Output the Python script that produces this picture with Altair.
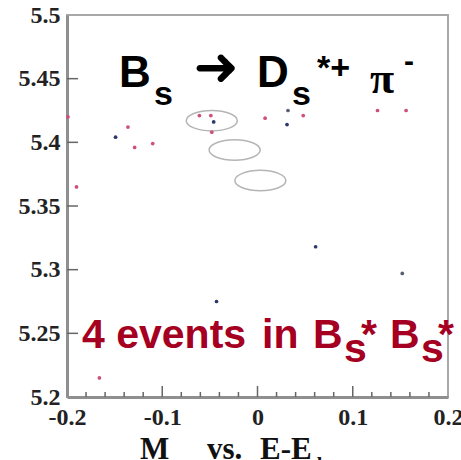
import altair as alt
import pandas as pd

# ---- data ----
x_vals = [-0.199, -0.190, -0.149, -0.136, -0.129, -0.110, -0.061, -0.049, -0.046, -0.048,
          0.008, 0.032, 0.031, 0.048, 0.126, 0.156, -0.043, -0.166, 0.061, 0.152]
y_vals = [5.420, 5.365, 5.404, 5.412, 5.396, 5.399, 5.421, 5.421, 5.416, 5.408,
          5.419, 5.425, 5.414, 5.421, 5.425, 5.425, 5.275, 5.215, 5.318, 5.297]
kinds = ["pink", "pink", "blue", "pink", "pink", "pink", "pink", "pink", "blue", "pink",
         "pink", "gray", "blue", "pink", "pink", "pink", "blue", "pink", "blue", "gray"]

ellipse_x = [-0.048, -0.024, 0.003]
ellipse_y = [5.417, 5.394, 5.370]

y_tick_labels = [5.2, 5.25, 5.3, 5.35, 5.4, 5.45, 5.5]
x_tick_labels = [-0.2, -0.1, 0, 0.1, 0.2]
y_inner_ticks = [5.25, 5.3, 5.35, 5.4, 5.45]
x_major_ticks = [-0.1, 0.0, 0.1]
x_minor_ticks = [-0.18, -0.16, -0.14, -0.12, -0.08, -0.06, -0.04, -0.02,
                 0.02, 0.04, 0.06, 0.08, 0.12, 0.14, 0.16, 0.18]

pts_df = pd.DataFrame({"x": x_vals, "y": y_vals, "kind": kinds})
ell_df = pd.DataFrame({"x": ellipse_x, "y": ellipse_y})
yt_df = pd.DataFrame({"y": y_inner_ticks})
xmaj_df = pd.DataFrame({"x": x_major_ticks})
xmin_df = pd.DataFrame({"x": x_minor_ticks})

W, H = 381, 382
xs = alt.Scale(domain=[-0.2, 0.2], nice=False, zero=False)
ys = alt.Scale(domain=[5.2, 5.5], nice=False, zero=False)

x_axis = alt.Axis(values=x_tick_labels, labelExpr="toString(datum.value)", title=None,
                  labelPadding=8, labelFlush=False, labelOverlap=False)
y_axis = alt.Axis(values=y_tick_labels, labelExpr="toString(datum.value)", title=None,
                  labelPadding=7, labelOverlap=False)

X = alt.X("x:Q", scale=xs, axis=x_axis)
Y = alt.Y("y:Q", scale=ys, axis=y_axis)

pts = alt.Chart(pts_df).mark_point(filled=True, size=14, opacity=1).encode(
    x=X, y=Y,
    color=alt.Color("kind:N", scale=alt.Scale(domain=["pink", "blue", "gray"],
                                              range=["#cf4f7c", "#2b3a6b", "#5a5f70"]),
                    legend=None),
)

ell = alt.Chart(ell_df).mark_point(
    shape="M-1,0A1,0.4,0,1,1,1,0A1,0.4,0,1,1,-1,0Z", size=2600, filled=False,
    color="#b5b5b5", strokeWidth=1.5, opacity=1,
).encode(x=X, y=Y)

yt = alt.Chart(yt_df).mark_rule(color="#666666", strokeWidth=1.5).encode(
    y=Y, x=alt.value(0), x2=alt.value(11))
xt_major = alt.Chart(xmaj_df).mark_rule(color="#666666", strokeWidth=1.5).encode(
    x=X, y=alt.value(H), y2=alt.value(H - 11))
xt_minor = alt.Chart(xmin_df).mark_rule(color="#666666", strokeWidth=1.5).encode(
    x=X, y=alt.value(H), y2=alt.value(H - 5))


def label(txt, x, y, size, color, font="Liberation Sans", weight="bold",
          align="left", baseline="alphabetic"):
    return alt.Chart(alt.Data(values=[{}])).mark_text(
        text=txt, font=font, fontSize=size, fontWeight=weight, color=color,
        align=align, baseline=baseline,
    ).encode(x=alt.value(x), y=alt.value(y))


BLK = "#000000"
RED = "#a50021"
labels = [
    label("B", 52, 72, 44, BLK),
    label("s", 87, 90, 34, BLK),
    label("➜", 149, 54, 54, BLK, font="DejaVu Sans", align="center", baseline="middle"),
    label("D", 190, 72, 44, BLK),
    label("s", 225, 90, 34, BLK),
    label("*+", 250, 64, 34, BLK),
    label("π", 303, 78, 44, BLK, font="Liberation Serif"),
    label("-", 337, 56, 30, BLK),
    label("4 events", 15, 333, 41, RED),
    label("in", 195, 333, 41, RED),
    label("B", 246, 333, 41, RED),
    label("s", 277, 347, 41, RED),
    label("*", 294, 333, 41, RED),
    label("B", 323, 333, 41, RED),
    label("s", 354, 347, 41, RED),
    label("*", 371, 333, 41, RED),
    label("M", 73, 444, 31, "#111111", font="Liberation Serif"),
    label("bc", 105, 462, 20, "#111111", font="Liberation Serif"),
    label("vs.", 140, 444, 31, "#111111", font="Liberation Serif"),
    label("E-E", 193, 444, 31, "#111111", font="Liberation Serif"),
    label("beam", 250, 457, 20, "#111111", font="Liberation Serif"),
]

chart = alt.layer(ell, yt, xt_major, xt_minor, pts, *labels).properties(
    width=W, height=H,
    padding={"left": 67, "top": 15, "right": 13, "bottom": 63},
    autosize=alt.AutoSizeParams(type="none"),
    background="white",
).configure_view(
    stroke="#a8a8a8", strokeWidth=2
).configure_axis(
    grid=False, ticks=False, tickSize=0, domainColor="#8f8f8f", domainWidth=3,
    labelFont="Liberation Serif", labelFontWeight="bold", labelFontSize=24,
    labelColor="#222222",
)

chart.save("out.html", embed_options={"renderer": "svg", "actions": False})
